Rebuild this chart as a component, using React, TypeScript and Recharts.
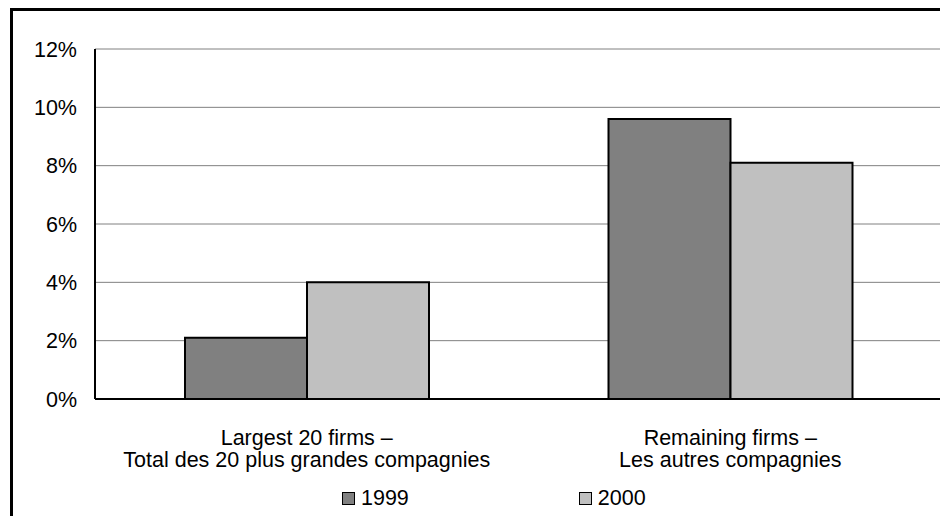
import { BarChart, Bar, XAxis, YAxis, CartesianGrid, Legend } from "recharts";

const categories = [
  "Largest 20 firms –\nTotal des 20 plus grandes compagnies",
  "Remaining firms –\nLes autres compagnies",
];
const values1999 = [2.1, 9.6];
const values2000 = [4.0, 8.1];
const yTicks = [0, 2, 4, 6, 8, 10, 12];

const chartData = categories.map((name, i) => ({
  name,
  y1999: values1999[i],
  y2000: values2000[i],
}));

const FONT = "'Liberation Sans', Arial, sans-serif";
const FS = 21.5;

function CategoryTick(props: any) {
  const { x, y, payload } = props;
  const lines = String(payload.value).split("\n");
  return (
    <text x={x} y={y} textAnchor="middle" fill="#000" fontSize={FS} fontFamily={FONT}>
      {lines.map((line, i) => (
        <tspan key={i} x={x} dy={i === 0 ? 38 : 22}>
          {line}
        </tspan>
      ))}
    </text>
  );
}

function LegendContent(props: any) {
  const { payload } = props;
  return (
    <div
      style={{
        display: "flex",
        paddingLeft: 342,
        gap: 170,
        fontFamily: FONT,
        fontSize: FS,
        height: 24,
        lineHeight: "24px",
      }}
    >
      {(payload || []).map((entry: any) => (
        <div key={entry.value} style={{ display: "flex", alignItems: "center" }}>
          <span
            style={{
              display: "inline-block",
              width: 11,
              height: 11,
              background: entry.color,
              border: "1.5px solid #000",
              marginRight: 6,
            }}
          />
          <span>{entry.value}</span>
        </div>
      ))}
    </div>
  );
}

export default function App() {
  return (
    <div
      style={{
        position: "absolute",
        left: 0,
        top: 0,
        width: 940,
        height: 516,
        overflow: "hidden",
        background: "#fff",
      }}
    >
      <div
        style={{
          position: "absolute",
          left: 10,
          top: 8,
          width: 960,
          height: 540,
          border: "3px solid #000",
          boxSizing: "border-box",
        }}
      />
      <div style={{ position: "absolute", left: 0, top: 0 }}>
        <BarChart
          width={942}
          height={516}
          data={chartData}
          margin={{ top: 49, right: 0, bottom: 0, left: 0 }}
          barCategoryGap={90}
          barGap={0}
        >
          <CartesianGrid vertical={false} stroke="#808080" strokeWidth={1} />
          <XAxis
            dataKey="name"
            tick={<CategoryTick />}
            tickLine={false}
            axisLine={{ stroke: "#000", strokeWidth: 2 }}
            height={93}
            interval={0}
          />
          <YAxis
            domain={[0, 12]}
            ticks={yTicks}
            tickFormatter={(v) => `${v}%`}
            width={95}
            tickLine={false}
            tickSize={0}
            tickMargin={18}
            axisLine={{ stroke: "#000", strokeWidth: 2 }}
            tick={{ fill: "#000", fontSize: FS, fontFamily: FONT }}
            interval={0}
          />
          <Legend
            verticalAlign="bottom"
            content={<LegendContent />}
            wrapperStyle={{ position: "absolute", left: 0, top: 486, width: 940, bottom: "auto" }}
          />
          <Bar
            dataKey="y1999"
            name="1999"
            fill="#808080"
            stroke="#000"
            strokeWidth={2}
            isAnimationActive={false}
          />
          <Bar
            dataKey="y2000"
            name="2000"
            fill="#c0c0c0"
            stroke="#000"
            strokeWidth={2}
            isAnimationActive={false}
          />
        </BarChart>
      </div>
    </div>
  );
}
